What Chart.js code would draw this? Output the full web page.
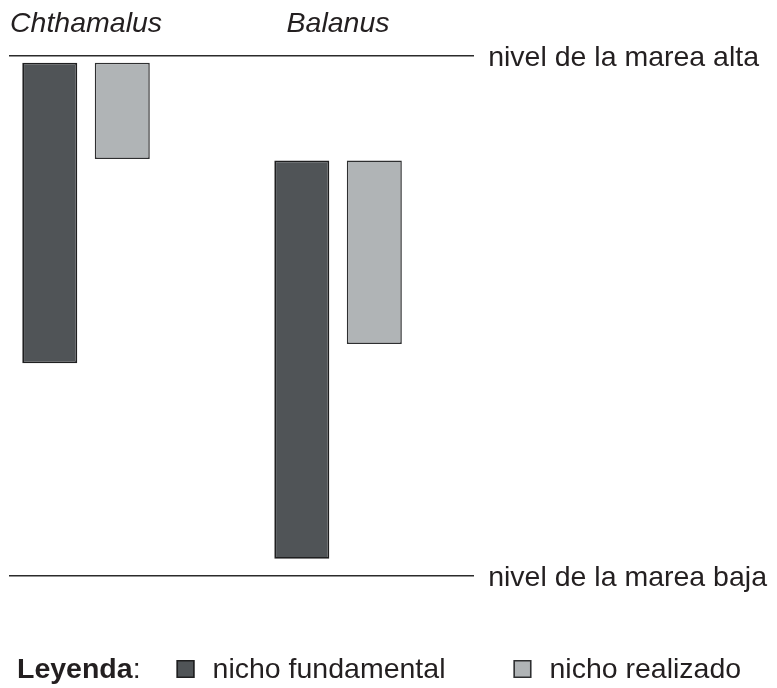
<!DOCTYPE html>
<html>
<head>
<meta charset="utf-8">
<script src="https://cdn.jsdelivr.net/npm/chart.js@4/dist/chart.umd.min.js"></script>
<style>
    html, body { margin: 0; padding: 0; background: #ffffff; }
    #wrap { width: 777px; height: 688px; }
</style>
</head>
<body>
<div id="wrap"><canvas id="nichos" width="777" height="688"></canvas></div>
<script>
// especies (columnas del grafico)
const species = ['Chthamalus', 'Balanus'];

// profundidad relativa: 0 = marea alta, 100 = marea baja
const fundamentalTop = [1.3, 20.1];
const fundamentalBottom = [59.1, 96.7];
const realizedTop = [1.3, 20.1];
const realizedBottom = [19.8, 55.4];

const tideLevels = [0, 100];
const tideLabels = ['nivel de la marea alta', 'nivel de la marea baja'];

const seriesLabels = ['nicho fundamental', 'nicho realizado'];
const legendTitle = 'Leyenda';

const textColor = '#231f20';
const fontFamily = '"Liberation Sans", Arial, Helvetica, sans-serif';
const fontSize = 28.5;

function toBars(tops, bottoms) {
    return species.map((s, i) => ({x: i, y: [tops[i], bottoms[i]]}));
}

// leyenda en una sola linea, con "Leyenda:" delante
const legendRow = {
    id: 'legendRow',
    afterDraw(chart) {
        const ctx = chart.ctx;
        const baseY = 678;
        let x = 17;
        ctx.save();
        ctx.fillStyle = textColor;
        ctx.textBaseline = 'alphabetic';
        ctx.textAlign = 'left';
        ctx.font = 'bold ' + fontSize + 'px ' + fontFamily;
        ctx.fillText(legendTitle, x, baseY);
        x += ctx.measureText(legendTitle).width;
        ctx.font = fontSize + 'px ' + fontFamily;
        ctx.fillText(':', x, baseY);
        x += ctx.measureText(':').width + 36;
        chart.data.datasets.forEach((ds) => {
            ctx.fillStyle = ds.backgroundColor;
            ctx.fillRect(x, baseY - 18, 18, 18);
            ctx.strokeStyle = ds.borderColor;
            ctx.lineWidth = 1.5;
            ctx.strokeRect(x + 0.75, baseY - 17.25, 16.5, 16.5);
            ctx.fillStyle = textColor;
            ctx.fillText(ds.label, x + 36, baseY);
            x += 36 + ctx.measureText(ds.label).width + 68;
        });
        ctx.restore();
    }
};

const chart = new Chart(document.getElementById('nichos'), {
    type: 'bar',
    data: {
        datasets: [
            {
                label: seriesLabels[0],
                data: toBars(fundamentalTop, fundamentalBottom),
                backgroundColor: '#505457',
                borderColor: '#1f1f20',
                borderWidth: 1.8,
                borderSkipped: false
            },
            {
                label: seriesLabels[1],
                data: toBars(realizedTop, realizedBottom),
                backgroundColor: '#b0b4b6',
                borderColor: '#2e2f30',
                borderWidth: 1.5,
                borderSkipped: false
            }
        ]
    },
    options: {
        responsive: false,
        animation: false,
        events: [],
        categoryPercentage: 0.5754,
        barPercentage: 0.7586,
        layout: {
            padding: {left: 9, right: -4, top: -7, bottom: 112}
        },
        plugins: {
            legend: {display: false},
            tooltip: {enabled: false}
        },
        scales: {
            x: {
                type: 'linear',
                position: 'top',
                offset: false,
                bounds: 'data',
                min: -0.3056,
                max: 1.54,
                afterBuildTicks: (axis) => {
                    axis.ticks = species.map((s, i) => ({value: i}));
                },
                afterFit: (axis) => {
                    axis.paddingLeft = 0;
                    axis.paddingRight = 0;
                },
                grid: {display: false, offset: false, drawTicks: false},
                border: {display: false},
                ticks: {
                    padding: 14.4,
                    maxRotation: 0,
                    autoSkip: false,
                    color: textColor,
                    font: {family: fontFamily, size: fontSize, style: 'italic'},
                    callback: (value) => species[value]
                }
            },
            y: {
                type: 'linear',
                position: 'right',
                reverse: true,
                bounds: 'data',
                min: tideLevels[0],
                max: tideLevels[1],
                afterBuildTicks: (axis) => {
                    axis.ticks = tideLevels.map((v) => ({value: v}));
                },
                grid: {color: '#2b2b2b', lineWidth: 1.5, drawTicks: false},
                border: {display: false},
                ticks: {
                    padding: 14,
                    labelOffset: 2,
                    color: textColor,
                    font: {family: fontFamily, size: fontSize},
                    callback: (value) => tideLabels[tideLevels.indexOf(value)]
                }
            }
        }
    },
    plugins: [legendRow]
});
</script>
</body>
</html>
